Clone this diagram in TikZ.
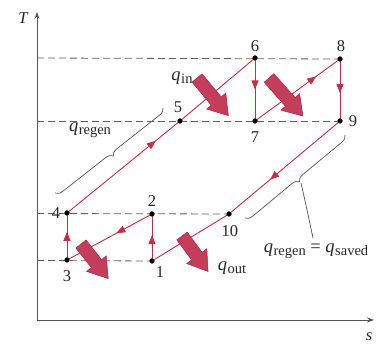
\documentclass[tikz,border=0pt]{standalone}
\usepackage{fontspec}
\setmainfont{Liberation Serif}
\usetikzlibrary{arrows.meta,decorations.markings,decorations.pathreplacing}
\definecolor{cyc}{RGB}{200,45,70}
\definecolor{fatc}{RGB}{196,62,92}
\definecolor{fatd}{RGB}{165,40,70}
\definecolor{dsh}{RGB}{95,95,95}
\definecolor{axc}{RGB}{85,85,80}
\newcommand\fatarr[3]{%
  \begin{scope}[shift={#1},rotate=#2]
    \filldraw[fill=fatc,draw=fatd,line width=0.5pt,line join=miter]
      (0,-6.5) -- ({#3-19},-6.5) -- ({#3-19},-12.5) -- (#3,0) -- ({#3-19},12.5) -- ({#3-19},6.5) -- (0,6.5) -- cycle;
  \end{scope}}
\newcommand\qlab[1]{\textit{q}\kern0.5pt\raisebox{-0.35ex}{\fontsize{14.5}{15}\selectfont #1}}
\begin{document}
\begin{tikzpicture}[x=1pt,y=-1pt,font=\fontsize{16.5}{19}\selectfont,
  dot/.style={circle,fill=black,inner sep=0pt,minimum size=5pt},
  lbl/.style={inner sep=0pt,text=black!85},
  qtext/.style={inner sep=0pt,text=black!85,font=\fontsize{18.5}{21}\selectfont},
  cycline/.style={draw=cyc,line width=0.9pt},
  dashl/.style={draw=dsh,dash pattern=on 7pt off 4pt,line width=0.8pt},
  axis/.style={draw=axc,line width=0.9pt,-{Stealth[length=7pt,width=5pt]}},
  midarr/.style={postaction={decorate},decoration={markings,mark=at position #1 with {\arrow[cyc]{Triangle[length=9pt,width=7pt]}}}},
  brc/.style={draw=axc,line width=0.7pt,decorate,decoration={brace,amplitude=7pt}}]
\useasboundingbox (0,0) rectangle (384,344);
% axes
\coordinate (o) at (37,320);
\coordinate (ytop) at (37,12);
\coordinate (xend) at (374,320);
\draw[axis] (o) -- (ytop);
\draw[axis] (o) -- (xend);
\node[lbl] (T) at (23,18) {\itshape T};
\node[lbl] (s) at (369,337) {\itshape s};
% state points
\node[dot] (p1) at (152,261) {};
\node[dot] (p2) at (152,214) {};
\node[dot] (p3) at (67,260) {};
\node[dot] (p4) at (67,213) {};
\node[dot] (p5) at (180,121) {};
\node[dot] (p6) at (255,58) {};
\node[dot] (p7) at (255,121) {};
\node[dot] (p8) at (340,59) {};
\node[dot] (p9) at (340,121) {};
\node[dot] (p10) at (229,214) {};
% dashed levels
\coordinate (a6) at (37,58);
\coordinate (a5) at (37,121);
\coordinate (a4) at (37,213.5);
\coordinate (a3) at (37,260.5);
\draw[dashl] (a6) -- (p8.center);
\draw[dashl] (a5) -- (p9.center);
\draw[dashl] (a4) -- (p10.center);
\draw[dashl] (a3) -- (p1.center);
% cycle
\draw[cycline,midarr=0.55] (p1.center) -- (p2.center);
\draw[cycline,midarr=0.42] (p2.center) -- (p3.center);
\draw[cycline,midarr=0.6] (p3.center) -- (p4.center);
\draw[cycline,midarr=0.47] (p4.center) -- (p5.center) -- (p6.center);
\draw[cycline,midarr=0.5] (p6.center) -- (p7.center);
\draw[cycline,midarr=0.72] (p7.center) -- (p8.center);
\draw[cycline,midarr=0.55] (p8.center) -- (p9.center);
\draw[cycline,midarr=0.63] (p9.center) -- (p10.center);
\draw[cycline] (p10.center) -- (p1.center);
% heat arrows
\fatarr{(197,78)}{-50.2}{49}
\fatarr{(269,78)}{-48.3}{51}
\fatarr{(81,244)}{-51.8}{44}
\fatarr{(182,236)}{-53.7}{44}
% redraw dots on top
\foreach \p in {p1,p2,p3,p4,p5,p6,p7,p8,p9,p10}{\fill (\p) circle (2.5pt);}
% braces
\coordinate (b1a) at (163,108);
\coordinate (b1b) at (55,193);
\draw[brc] (b1a) -- (b1b);
\coordinate (b2a) at (345,135);
\coordinate (b2b) at (245,218);
\draw[brc] (b2a) -- (b2b);
\coordinate (b2tip) at (301,183);
\coordinate (lead) at (313,238);
\draw[draw=axc,line width=0.7pt] (b2tip) .. controls (306,205) .. (lead);
% labels
\node[lbl] (l1) at (160,272) {1};
\node[lbl] (l2) at (152,201) {2};
\node[lbl] (l3) at (67,276) {3};
\node[lbl] (l4) at (56,213) {4};
\node[lbl] (l5) at (178,107) {5};
\node[lbl] (l6) at (255,46) {6};
\node[lbl] (l7) at (255,137) {7};
\node[lbl] (l8) at (341,46) {8};
\node[lbl] (l9) at (353,121) {9};
\node[lbl] (l10) at (230,231) {10};
\node[qtext] (qin) at (182,78) {\qlab{in}};
\node[qtext] (qreg) at (90,130) {\qlab{regen}};
\node[qtext] (qout) at (232,268) {\qlab{out}};
\node[qtext] (qsav) at (316,251) {\qlab{regen} = \qlab{saved}};
\end{tikzpicture}
\end{document}
